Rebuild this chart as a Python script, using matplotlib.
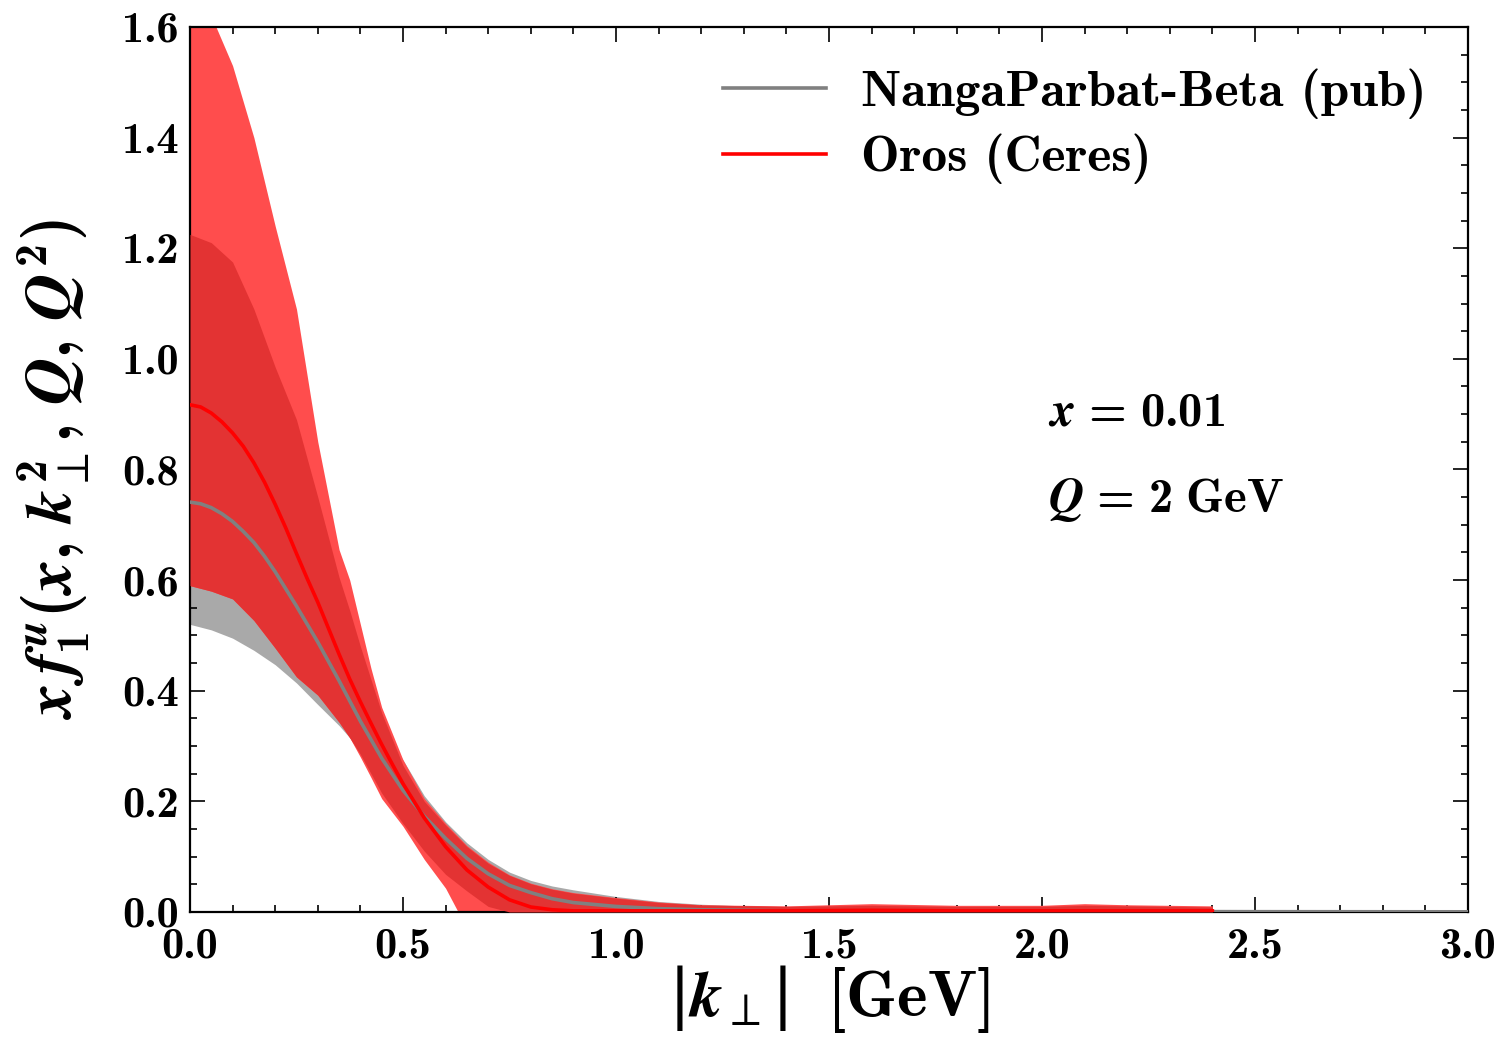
import os
import matplotlib
matplotlib.use('Agg')
import matplotlib.pyplot as plt
from matplotlib import font_manager as fm
from matplotlib.ticker import MultipleLocator

# bold Computer Modern shipped with matplotlib
ttf_dir = os.path.join(matplotlib.get_data_path(), 'fonts', 'ttf')
fm.fontManager.addfont(os.path.join(ttf_dir, 'cmb10.ttf'))

plt.rcParams['font.family'] = 'cmb10'
plt.rcParams['mathtext.fontset'] = 'custom'
plt.rcParams['mathtext.rm'] = 'cmb10'
plt.rcParams['mathtext.bf'] = 'cmb10'
plt.rcParams['mathtext.it'] = 'STIXGeneral:italic:bold'
plt.rcParams['mathtext.sf'] = 'DejaVu Serif'
plt.rcParams['axes.unicode_minus'] = False

# %% data: x f_1^u at x = 0.01, Q = 2 GeV
# central curves
kt_oros_line = [0, 0.025, 0.05, 0.075, 0.1, 0.125, 0.15, 0.175, 0.2, 0.225, 0.25, 0.275, 0.3,
                0.325, 0.35, 0.375, 0.4, 0.425, 0.45, 0.475, 0.5, 0.55, 0.6, 0.65, 0.7, 0.75,
                0.8, 0.85, 0.9, 1.0, 1.2, 1.4, 1.6, 1.8, 2.0, 2.2, 2.4]
oros_central = [0.917, 0.913, 0.902, 0.886, 0.866, 0.842, 0.812, 0.777, 0.737, 0.694, 0.648, 0.603, 0.560,
                0.513, 0.466, 0.421, 0.380, 0.341, 0.303, 0.267, 0.232, 0.170, 0.118, 0.076, 0.045, 0.022,
                0.009, 0.004, 0.002, 0.002, 0.002, 0.002, 0.003, 0.002, 0.002, 0.002, 0.002]

kt_np_line = [0, 0.025, 0.05, 0.075, 0.1, 0.125, 0.15, 0.175, 0.2, 0.25, 0.3, 0.35, 0.4, 0.45, 0.5,
              0.55, 0.6, 0.65, 0.7, 0.75, 0.8, 0.85, 0.9, 1.0, 1.1, 1.2, 1.4, 1.6, 2.0, 2.5, 3.0]
np_central = [0.741, 0.738, 0.731, 0.720, 0.706, 0.688, 0.668, 0.643, 0.615, 0.553, 0.488, 0.418, 0.345,
              0.278, 0.220, 0.173, 0.133, 0.097, 0.069, 0.048, 0.035, 0.024, 0.017, 0.010, 0.006, 0.004,
              0.002, 0.0015, 0.001, 0.0005, 0.0003]

# uncertainty bands
kt_red = [0, 0.05, 0.1, 0.15, 0.2, 0.25, 0.3, 0.35, 0.375, 0.4, 0.425, 0.45,
          0.5, 0.55, 0.6, 0.65, 0.7, 0.75, 0.8, 0.85, 0.9, 1.0, 1.1, 1.2,
          1.4, 1.6, 1.8, 2.0, 2.1, 2.2, 2.4]
oros_inner_hi = [1.225, 1.210, 1.175, 1.090, 0.985, 0.890, 0.750, 0.605, 0.545, 0.480, 0.420, 0.360,
                 0.265, 0.200, 0.157, 0.118, 0.088, 0.066, 0.051, 0.041, 0.034, 0.025, 0.017, 0.0125,
                 0.010, 0.012, 0.010, 0.010, 0.012, 0.011, 0.009]
oros_inner_lo = [0.590, 0.580, 0.566, 0.527, 0.477, 0.425, 0.392, 0.343, 0.315, 0.285, 0.250, 0.215,
                 0.160, 0.110, 0.068, 0.038, 0.010, 0.0, 0.0, 0.0, 0.0, 0.0, 0.0, 0.0,
                 0.0, 0.0, 0.0, 0.0, 0.0, 0.0, 0.0]
oros_outer_hi = [1.700, 1.620, 1.530, 1.400, 1.240, 1.090, 0.850, 0.655, 0.600, 0.520, 0.440, 0.370,
                 0.275, 0.205, 0.160, 0.120, 0.090, 0.067, 0.052, 0.042, 0.035, 0.026, 0.018, 0.013,
                 0.011, 0.015, 0.012, 0.012, 0.015, 0.013, 0.011]
oros_outer_lo = [0.590, 0.580, 0.566, 0.527, 0.477, 0.425, 0.392, 0.343, 0.315, 0.280, 0.243, 0.205,
                 0.155, 0.095, 0.043, -0.030, -0.050, -0.050, -0.050, -0.050, -0.050, -0.050, -0.050, -0.050,
                 -0.050, -0.050, -0.050, -0.050, -0.050, -0.050, -0.050]

kt_grey = [0, 0.05, 0.1, 0.15, 0.2, 0.25, 0.3, 0.35, 0.4, 0.45, 0.5, 0.55, 0.6, 0.65,
           0.7, 0.75, 0.8, 0.85, 0.9, 1.0, 1.1, 1.2, 1.4, 1.6, 1.8, 2.0, 2.5, 3.0]
np_hi = [0.960, 0.950, 0.920, 0.870, 0.800, 0.720, 0.630, 0.540, 0.430, 0.330, 0.275, 0.210, 0.163, 0.125,
         0.095, 0.072, 0.057, 0.047, 0.040, 0.028, 0.019, 0.014, 0.008, 0.006, 0.005, 0.004, 0.003, 0.002]
np_lo = [0.520, 0.510, 0.495, 0.473, 0.447, 0.414, 0.375, 0.337, 0.293, 0.245, 0.200, 0.160, 0.125, 0.092,
         0.065, 0.045, 0.032, 0.022, 0.016, 0.008, 0.005, 0.003, 0.0015, 0.001, 0.0008, 0.0006, 0.0003, 0.0002]

# %% plot
fig = plt.figure(figsize=(15.03, 10.45), dpi=100)
ax = fig.add_axes([0.1264, 0.1273, 0.8503, 0.8469])

ax.fill_between(kt_grey, np_lo, np_hi, color='#a9a9a9', lw=0, zorder=1)
ax.fill_between(kt_red, oros_outer_lo, oros_outer_hi, color='#ff4d4d', lw=0, zorder=2)
ax.fill_between(kt_red, oros_inner_lo, oros_inner_hi, color='#e33333', lw=0, zorder=3)
ax.plot(kt_np_line, np_central, color='#808080', lw=2.6, zorder=4, label='NangaParbat-Beta (pub)')
ax.plot(kt_oros_line, oros_central, color='#ff0000', lw=2.6, zorder=5, label='Oros (Ceres)')

ax.set_xlim(0, 3)
ax.set_ylim(0, 1.6)
ax.xaxis.set_major_locator(MultipleLocator(0.5))
ax.xaxis.set_minor_locator(MultipleLocator(0.1))
ax.yaxis.set_major_locator(MultipleLocator(0.2))
ax.yaxis.set_minor_locator(MultipleLocator(0.05))
ax.tick_params(which='both', direction='in', top=True, right=True, labelsize=32)
ax.tick_params(axis='x', pad=11)
ax.tick_params(axis='y', pad=8)
ax.tick_params(which='major', length=11, width=1.2)
ax.tick_params(which='minor', length=5, width=1.2)
for s in ax.spines.values():
    s.set_linewidth(1.6)

ax.set_xlabel(r'$\mathsf{|}k_\perp\mathsf{|}\ \ \mathrm{[GeV]}$', fontsize=47, labelpad=-2)
ax.set_ylabel(r'$x\,f_1^u(x,\,k_\perp^2,\,Q,\,Q^2)$', fontsize=47, labelpad=22)

ax.text(2.014, 0.88, r'$x\,=\,0.01$', fontsize=35)
ax.text(2.014, 0.723, r'$Q\,=\,2\ \mathrm{GeV}$', fontsize=35)

ax.legend(loc='upper right', frameon=False, fontsize=37, handlelength=2.0,
          handletextpad=0.7, labelspacing=0.3, borderaxespad=0.4)

fig.savefig('out.png', dpi=100)
